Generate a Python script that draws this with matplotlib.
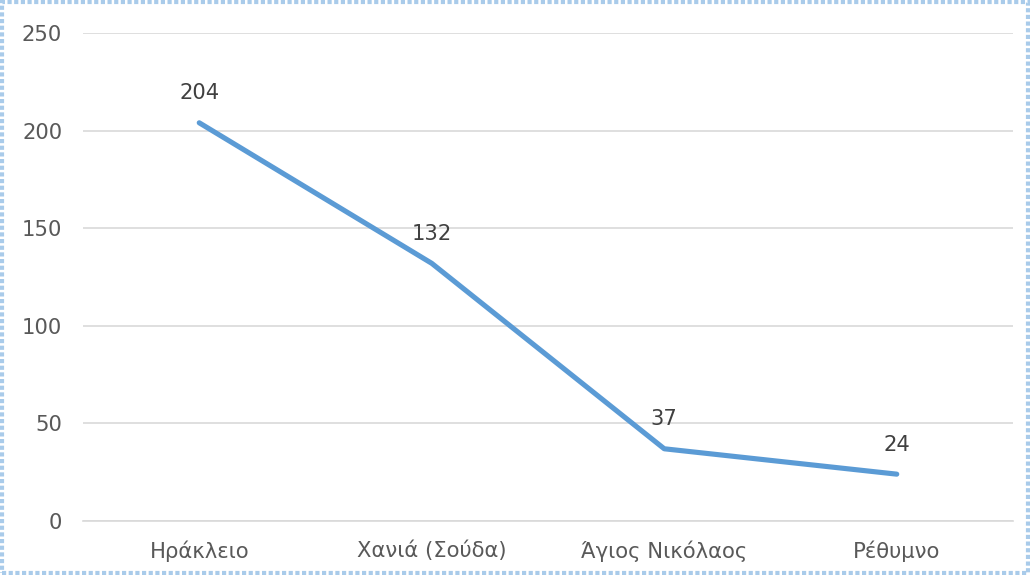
import matplotlib
matplotlib.use("Agg")
import matplotlib.pyplot as plt
from matplotlib.patches import Rectangle

categories = ["Ηράκλειο", "Χανιά (Σούδα)", "Άγιος Νικόλαος", "Ρέθυμνο"]
values = [204, 132, 37, 24]
yticks = [0, 50, 100, 150, 200, 250]

plt.rcParams['font.family'] = ['DejaVu Sans']

fig = plt.figure(figsize=(10.3, 5.75), dpi=100)
ax = fig.add_axes([83/1030, 54/575, 930/1030, 488/575])

x = list(range(len(categories)))
ax.plot(x, values, color="#5B9BD5", linewidth=3.7, solid_capstyle="round", zorder=3)
for xi, v in zip(x, values):
    ax.annotate(str(v), (xi, v), xytext=(0, 14), textcoords="offset points",
                ha="center", va="bottom", fontsize=15.2, color="#404040")

ax.set_xlim(-0.5, len(categories) - 0.5)
ax.set_ylim(0, 250)
ax.set_yticks(yticks)
ax.set_xticks(x)
ax.set_xticklabels(categories)
ax.grid(axis="y", color="#D9D9D9", linewidth=1.2)
ax.set_axisbelow(True)
for s in ["top", "right", "left"]:
    ax.spines[s].set_visible(False)
ax.spines["bottom"].set_color("#D9D9D9")
ax.spines["bottom"].set_linewidth(1.2)
ax.tick_params(axis="both", length=0, labelsize=15.2, labelcolor="#595959")
ax.tick_params(axis="y", pad=15)
ax.tick_params(axis="x", pad=14)

border = Rectangle((0.002, 0.003), 0.996, 0.994, transform=fig.transFigure,
                   fill=False, edgecolor="#A9CBEA", linewidth=3,
                   linestyle=(0, (1, 0.6)))
fig.patches.append(border)

fig.savefig("out.png", dpi=100)
